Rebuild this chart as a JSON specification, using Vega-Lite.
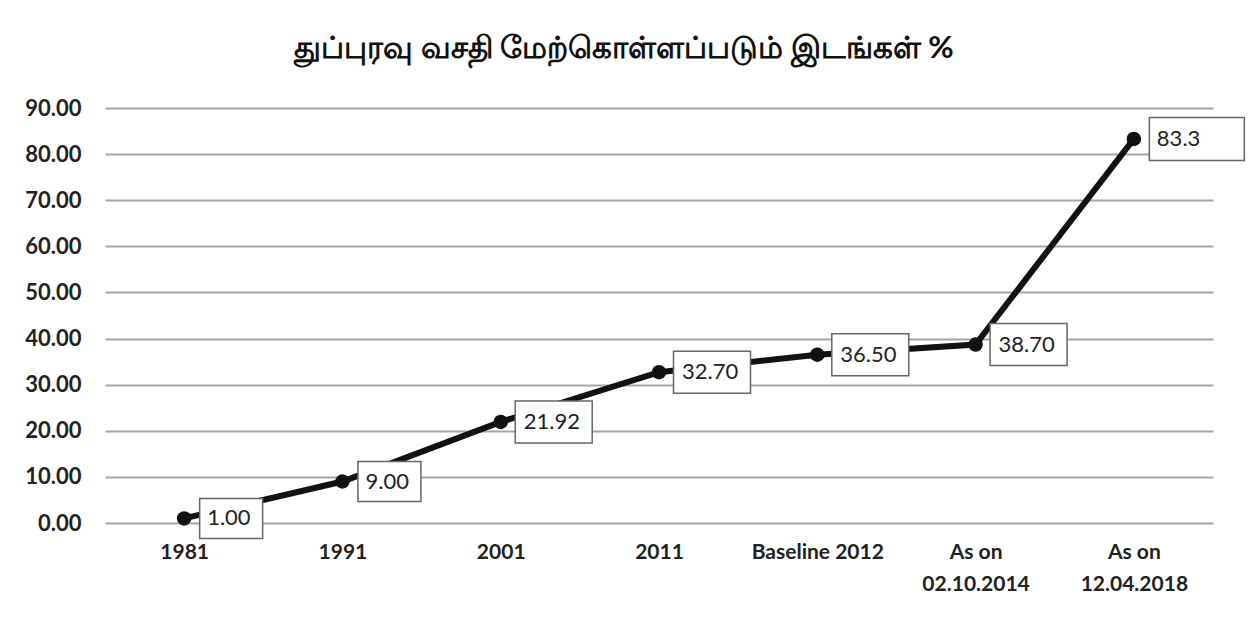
{
  "$schema": "https://vega.github.io/schema/vega-lite/v6.json",
  "width": 1108,
  "height": 415,
  "autosize": {"type": "none"},
  "padding": {"left": 105, "top": 108, "right": 39, "bottom": 96},
  "background": "white",
  "config": {"view": {"stroke": null}},
  "title": {
    "text": "துப்புரவு வசதி மேற்கொள்ளப்படும் இடங்கள் %",
    "font": "Lato",
    "fontSize": 31,
    "fontWeight": "bold",
    "color": "#111",
    "anchor": "middle",
    "dx": -35,
    "offset": 32
  },
  "data": {
    "values": [
      {"cat": "1981", "val": 1.0, "label": "1.00", "grp": "s"},
      {"cat": "1991", "val": 9.0, "label": "9.00", "grp": "s"},
      {"cat": "2001", "val": 21.92, "label": "21.92", "grp": "m"},
      {"cat": "2011", "val": 32.7, "label": "32.70", "grp": "m"},
      {"cat": "Baseline 2012", "val": 36.5, "label": "36.50", "grp": "m"},
      {"cat": "As on|02.10.2014", "val": 38.7, "label": "38.70", "grp": "m"},
      {"cat": "As on|12.04.2018", "val": 83.3, "label": "83.3", "grp": "l"}
    ]
  },
  "encoding": {
    "x": {
      "field": "cat",
      "type": "nominal",
      "sort": null,
      "scale": {"type": "point", "padding": 0.5},
      "axis": {
        "title": null,
        "domain": false,
        "ticks": false,
        "grid": false,
        "labelAngle": 0,
        "labelExpr": "split(datum.label, '|')",
        "labelFont": "Lato",
        "labelFontWeight": "bold",
        "labelFontSize": 21,
        "labelColor": "#222",
        "labelPadding": 18,
        "labelLineHeight": 32
      }
    },
    "y": {
      "field": "val",
      "type": "quantitative",
      "scale": {"domain": [0, 90], "nice": false},
      "axis": {
        "title": null,
        "values": [0, 10, 20, 30, 40, 50, 60, 70, 80, 90],
        "format": ".2f",
        "domain": false,
        "ticks": false,
        "grid": true,
        "gridColor": "#a6a6a6",
        "gridWidth": 2,
        "labelFont": "Lato",
        "labelFontWeight": "bold",
        "labelFontSize": 22,
        "labelColor": "#222",
        "labelPadding": 24
      }
    }
  },
  "layer": [
    {"mark": {"type": "line", "color": "#111", "strokeWidth": 6}},
    {"mark": {"type": "point", "filled": true, "color": "#111", "opacity": 1, "size": 210}},
    {
      "transform": [{"filter": "datum.grp === 's'"}],
      "mark": {"type": "point", "shape": "M-1,-0.635H1V0.635H-1Z", "size": 3969, "fill": "white", "stroke": "#666", "strokeWidth": 1.5, "opacity": 1, "fillOpacity": 1, "xOffset": 47}
    },
    {
      "transform": [{"filter": "datum.grp === 'm'"}],
      "mark": {"type": "point", "shape": "M-1,-0.545H1V0.545H-1Z", "size": 5929, "fill": "white", "stroke": "#666", "strokeWidth": 1.5, "opacity": 1, "fillOpacity": 1, "xOffset": 53}
    },
    {
      "transform": [{"filter": "datum.grp === 'l'"}],
      "mark": {"type": "point", "shape": "M-1,-0.4526H1V0.4526H-1Z", "size": 9025, "fill": "white", "stroke": "#666", "strokeWidth": 1.5, "opacity": 1, "fillOpacity": 1, "xOffset": 63}
    },
    {
      "mark": {"type": "text", "align": "left", "baseline": "middle", "dx": 23, "font": "Lato", "fontSize": 22, "color": "#222"},
      "encoding": {"text": {"field": "label"}}
    }
  ]
}
